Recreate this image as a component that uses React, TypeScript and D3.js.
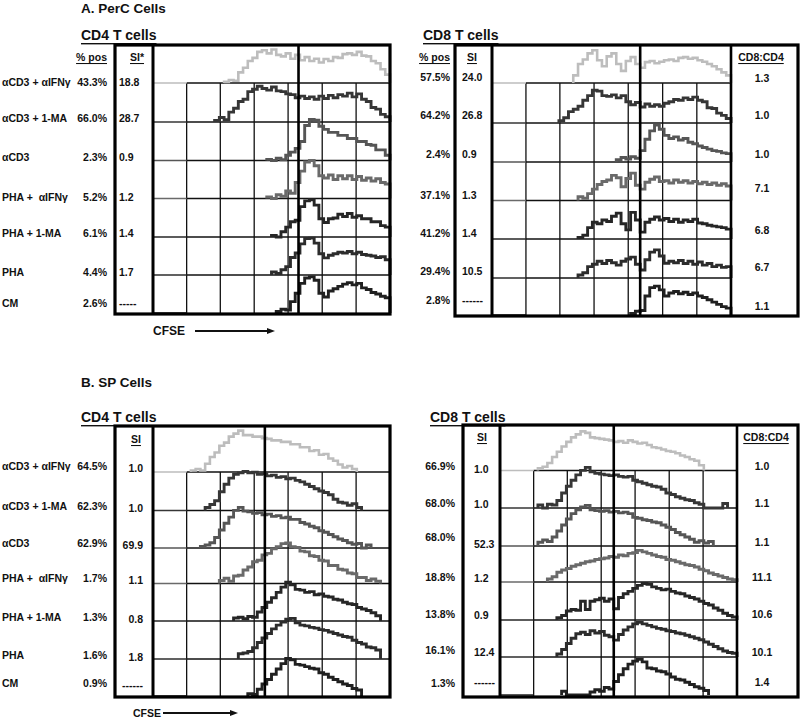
import React from "react";
import * as d3 from "d3";

// ---------- DATA ----------
const conditions = ["αCD3 + αIFNγ", "αCD3 + 1-MA", "αCD3", "PHA + \u00A0αIFNγ", "PHA + 1-MA", "PHA", "CM"];

const percCD4Pos = ["43.3%", "66.0%", "2.3%", "5.2%", "6.1%", "4.4%", "2.6%"];
const percCD4SI = ["18.8", "28.7", "0.9", "1.2", "1.4", "1.7", "-----"];
const percCD8Pos = ["57.5%", "64.2%", "2.4%", "37.1%", "41.2%", "29.4%", "2.8%"];
const percCD8SI = ["24.0", "26.8", "0.9", "1.3", "1.4", "10.5", "------"];
const percRatio = ["1.3", "1.0", "1.0", "7.1", "6.8", "6.7", "1.1"];

const spCD4Pos = ["64.5%", "62.3%", "62.9%", "1.7%", "1.3%", "1.6%", "0.9%"];
const spCD4SI = ["1.0", "1.0", "69.9", "1.1", "0.8", "1.8", "------"];
const spCD8Pos = ["66.9%", "68.0%", "68.0%", "18.8%", "13.8%", "16.1%", "1.3%"];
const spCD8SI = ["1.0", "1.0", "52.3", "1.2", "0.9", "12.4", "------"];
const spRatio = ["1.0", "1.1", "1.1", "11.1", "10.6", "10.1", "1.4"];

// CFSE histograms: first bin index (of 50 bins across the plot) and relative counts
const percCD4Start = [15, 13, 24, 24, 25, 25, 26];
const percCD4Counts = [
  [3, 8, 6, 28, 40, 58, 66, 82, 86, 78, 88, 74, 70, 78, 64, 74, 60, 68, 58, 64, 54, 63, 58, 68, 66, 76, 78, 74, 82, 72, 70, 58, 52, 36, 22],
  [4, 12, 6, 26, 36, 54, 60, 80, 86, 94, 88, 84, 92, 82, 80, 74, 72, 64, 68, 62, 66, 60, 68, 62, 70, 64, 72, 68, 76, 66, 74, 60, 54, 38, 34, 20, 14],
  [3, 0, 6, 2, 14, 22, 32, 50, 92, 108, 106, 90, 82, 74, 74, 66, 66, 58, 58, 50, 50, 42, 40, 28, 28, 14],
  [4, 0, 10, 6, 20, 14, 42, 72, 96, 100, 86, 60, 54, 62, 50, 60, 52, 60, 50, 58, 48, 54, 46, 52, 42, 38],
  [4, 0, 14, 26, 40, 44, 80, 95, 98, 84, 48, 38, 48, 50, 60, 54, 62, 52, 56, 48, 48, 40, 40, 30, 26],
  [8, 4, 14, 22, 46, 58, 82, 96, 97, 84, 56, 45, 52, 56, 60, 58, 62, 56, 60, 54, 52, 50, 46, 48, 40],
  [4, 10, 8, 30, 52, 78, 92, 95, 86, 52, 42, 58, 64, 70, 76, 80, 74, 78, 66, 62, 54, 50, 44, 40],
];

const percCD8Start = [17, 14, 26, 18, 18, 18, 29];
const percCD8Counts = [
  [20, 50, 62, 78, 86, 60, 44, 70, 78, 50, 32, 58, 68, 50, 40, 55, 58, 52, 56, 60, 62, 58, 66, 68, 64, 66, 60, 56, 50, 44, 36, 28, 20],
  [6, 14, 30, 36, 44, 60, 72, 86, 84, 72, 70, 74, 66, 72, 56, 48, 54, 42, 50, 44, 48, 44, 52, 56, 62, 60, 66, 62, 68, 60, 56, 40, 38, 26, 20, 12],
  [6, 12, 8, 14, 10, 30, 60, 82, 97, 86, 70, 62, 66, 58, 62, 52, 48, 42, 38, 34, 30, 28, 24, 22],
  [10, 6, 18, 30, 42, 50, 54, 66, 60, 36, 58, 72, 40, 30, 48, 56, 62, 50, 52, 46, 54, 48, 52, 46, 50, 44, 48, 42, 46, 40, 44, 38],
  [4, 10, 30, 44, 40, 50, 46, 60, 68, 40, 24, 70, 50, 18, 44, 52, 58, 50, 54, 46, 52, 44, 50, 46, 52, 42, 40, 36, 34, 32, 30, 26],
  [8, 14, 30, 36, 44, 38, 46, 40, 34, 44, 50, 55, 36, 21, 48, 68, 74, 58, 39, 44, 40, 46, 38, 44, 36, 42, 34, 38, 30, 34, 28, 30],
  [4, 10, 12, 50, 72, 76, 66, 50, 58, 62, 56, 60, 54, 58, 50, 46, 40, 34, 28, 22, 18],
];

const spCD4Start = [8, 11, 10, 14, 17, 18, 20];
const spCD4Counts = [
  [4, 8, 4, 22, 40, 52, 70, 78, 94, 102, 110, 98, 98, 94, 94, 90, 88, 84, 84, 80, 80, 74, 74, 66, 66, 56, 58, 46, 48, 36, 30, 20, 12, 16, 8],
  [8, 16, 26, 50, 70, 86, 96, 100, 104, 100, 102, 96, 98, 92, 94, 88, 90, 84, 86, 80, 76, 70, 64, 58, 52, 48, 42, 30, 22, 20, 14, 18, 8],
  [4, 8, 14, 28, 48, 66, 82, 100, 108, 98, 96, 92, 94, 88, 90, 84, 86, 80, 82, 76, 76, 68, 64, 58, 54, 46, 42, 36, 30, 24, 20, 14, 10, 12, 0, 8],
  [8, 14, 6, 20, 22, 36, 44, 58, 62, 76, 80, 92, 98, 106, 108, 98, 96, 86, 84, 74, 72, 62, 60, 48, 48, 38, 36, 28, 26, 16, 16, 8, 12, 6],
  [8, 10, 6, 12, 10, 24, 36, 50, 62, 76, 90, 103, 96, 84, 82, 76, 78, 70, 72, 66, 64, 58, 56, 50, 46, 44, 36, 32, 28, 22, 14],
  [14, 16, 20, 30, 44, 56, 68, 80, 90, 98, 106, 108, 96, 90, 88, 84, 82, 78, 76, 72, 68, 64, 60, 58, 50, 44, 40, 32, 30, 24],
  [6, 4, 18, 32, 44, 58, 72, 86, 100, 96, 84, 82, 78, 74, 72, 62, 58, 50, 44, 38, 32, 28, 20, 16],
];

const spCD8Start = [8, 8, 8, 10, 12, 12, 13];
const spCD8Counts = [
  [6, 10, 20, 36, 50, 64, 76, 88, 96, 104, 100, 88, 86, 84, 82, 80, 76, 78, 74, 80, 76, 72, 74, 68, 62, 60, 56, 52, 50, 46, 40, 36, 30, 26, 14],
  [8, 0, 10, 8, 20, 40, 58, 74, 88, 100, 108, 96, 92, 90, 88, 86, 88, 84, 82, 84, 74, 70, 66, 62, 58, 56, 50, 40, 36, 30, 26, 22, 20, 14, 10, 0, 0, 0, 0, 12],
  [10, 16, 12, 24, 40, 56, 72, 86, 96, 104, 108, 96, 94, 92, 94, 90, 92, 88, 90, 86, 76, 74, 70, 68, 64, 62, 56, 50, 44, 36, 30, 24, 18, 10, 14, 8, 12],
  [8, 14, 26, 32, 36, 42, 46, 50, 54, 56, 60, 62, 64, 68, 66, 72, 70, 76, 78, 84, 80, 76, 72, 68, 66, 60, 58, 54, 50, 46, 44, 40, 34, 30, 24, 20, 16, 12, 8, 6],
  [6, 12, 24, 28, 26, 50, 28, 50, 54, 58, 50, 56, 30, 60, 70, 76, 84, 92, 97, 95, 88, 84, 80, 82, 76, 72, 70, 64, 60, 56, 50, 44, 40, 32, 26, 18, 12, 8],
  [8, 20, 36, 50, 62, 66, 60, 70, 64, 68, 58, 54, 45, 60, 72, 80, 88, 92, 88, 84, 80, 76, 74, 70, 68, 64, 62, 58, 54, 50, 46, 40, 34, 28, 22, 16, 12, 10],
  [10, 0, 0, 0, 0, 0, 8, 14, 10, 20, 16, 36, 54, 70, 82, 90, 95, 88, 72, 70, 64, 62, 56, 48, 42, 40, 34, 28, 22, 18, 12],
];

// ---------- DRAWING ----------
const FONT = "'Liberation Sans', Arial, Helvetica, sans-serif";
const ROW_COLORS = ["#bdbdbd", "#363636", "#565656", "#6a6a6a", "#262626", "#2c2c2c", "#202020"];
const NBINS = 50;
const GRID_BINS = [7.1, 14.2, 21.35, 28.5, 35.7, 42.85];

type PanelGeom = {
  boxL: number; siR: number; plotR: number; boxR: number; top: number; bottom: number;
  baselines: number[]; unit: number; thickBin: number;
  starts: number[]; counts: number[][];
};

function HistPanel({ g }: { g: PanelGeom }) {
  const x = d3.scaleLinear().domain([0, NBINS]).range([g.siR, g.plotR]);
  const gx0 = x(GRID_BINS[0]);
  const line = d3
    .line<[number, number]>()
    .x((d) => d[0])
    .y((d) => d[1])
    .curve(d3.curveStepAfter);
  return (
    <g>
      {g.baselines.slice(0, 6).map((b, i) => (
        <line key={"h" + i} x1={gx0} x2={g.plotR} y1={b} y2={b} stroke="#111" strokeWidth={1.3} />
      ))}
      {GRID_BINS.map((gb, i) => (
        <line key={"v" + i} x1={x(gb)} x2={x(gb)} y1={g.baselines[0]} y2={g.bottom} stroke="#111" strokeWidth={1.3} />
      ))}
      {g.counts.map((c, r) => {
        const y = d3.scaleLinear().domain([0, 100]).range([g.baselines[r], g.baselines[r] - g.unit]);
        const s = g.starts[r];
        const pts: [number, number][] = [[x(s), y(0)]];
        c.forEach((v, i) => pts.push([x(s + i), y(v)]));
        pts.push([x(s + c.length), y(0)]);
        return (
          <g key={"r" + r}>
            <line x1={g.siR} x2={gx0} y1={g.baselines[r]} y2={g.baselines[r]} stroke={ROW_COLORS[r]} strokeWidth={1.3} />
            <path d={line(pts) || ""} fill="none" stroke={ROW_COLORS[r]} strokeWidth={r === 0 ? 2.6 : 2.9} strokeLinejoin="miter" />
          </g>
        );
      })}
      <line x1={x(g.thickBin)} x2={x(g.thickBin)} y1={g.top} y2={g.bottom} stroke="#000" strokeWidth={2.6} />
      <rect x={g.boxL} y={g.top} width={g.boxR - g.boxL} height={g.bottom - g.top} fill="none" stroke="#000" strokeWidth={3.2} />
      <line x1={g.siR} x2={g.siR} y1={g.top} y2={g.bottom} stroke="#000" strokeWidth={3} />
      {g.plotR < g.boxR - 5 && (
        <line x1={g.plotR} x2={g.plotR} y1={g.top} y2={g.bottom} stroke="#000" strokeWidth={2.6} />
      )}
    </g>
  );
}

function T({ x, y, children, anchor = "start", size = 10.5, underline = false }: any) {
  return (
    <text
      x={x}
      y={y}
      textAnchor={anchor}
      fontFamily={FONT}
      fontWeight="bold"
      fontSize={size}
      fill="#111"
      textDecoration={underline ? "underline" : undefined}
      dominantBaseline="central"
    >
      {children}
    </text>
  );
}

function Arrow({ x1, x2, y }: { x1: number; x2: number; y: number }) {
  return (
    <g>
      <line x1={x1} x2={x2 - 6} y1={y} y2={y} stroke="#111" strokeWidth={1.8} />
      <path d={`M${x2},${y} L${x2 - 8},${y - 3} L${x2 - 8},${y + 3} Z`} fill="#111" />
    </g>
  );
}

export default function App() {
  const A4: PanelGeom = {
    boxL: 115, siR: 153, plotR: 390, boxR: 390, top: 45, bottom: 314,
    baselines: [83, 122, 160.5, 198.5, 237, 275, 313], unit: 38, thickBin: 30.7,
    starts: percCD4Start, counts: percCD4Counts,
  };
  const A8: PanelGeom = {
    boxL: 455, siR: 492, plotR: 731, boxR: 798, top: 45, bottom: 316,
    baselines: [83, 123, 162, 200.5, 239, 278, 315], unit: 38, thickBin: 31,
    starts: percCD8Start, counts: percCD8Counts,
  };
  const B4: PanelGeom = {
    boxL: 115, siR: 153, plotR: 390, boxR: 390, top: 426, bottom: 697,
    baselines: [472, 510.5, 548, 583.5, 621, 659, 696], unit: 37.6, thickBin: 23.6,
    starts: spCD4Start, counts: spCD4Counts,
  };
  const B8: PanelGeom = {
    boxL: 463, siR: 500, plotR: 737, boxR: 798, top: 425, bottom: 697,
    baselines: [470.5, 508, 546, 582, 620, 657, 695], unit: 37.6, thickBin: 24,
    starts: spCD8Start, counts: spCD8Counts,
  };

  const aLabelY = [82, 118, 157, 197, 233, 272, 303];
  const a8PctY = [77, 115, 154, 195, 233, 271, 300];
  const a8RatioY = [78, 115, 154, 188, 230, 267, 306];
  const bLabelY = [466, 506, 543, 578, 617, 655, 683];
  const b8PctY = [466, 503, 537, 577, 614, 650, 683];
  const b8SIY = [469, 504, 544, 578, 615, 652, 682];
  const b8RatioY = [466, 503, 542, 577, 614, 652, 682];

  return (
    <svg width={800} height={723} style={{ display: "block", position: "absolute", left: 0, top: 0, background: "#fff" }}>
      <rect x={0} y={0} width={800} height={723} fill="#fff" />
      <T x={81} y={8} size={13.5}>A. PerC Cells</T>
      <T x={81} y={35} size={14} underline>CD4 T cells</T>
      <T x={107} y={57} anchor="end" underline>% pos</T>
      <T x={130} y={57} underline>SI*</T>
      {conditions.map((c, i) => (
        <g key={"al" + i}>
          <T x={2} y={aLabelY[i]}>{c}</T>
          <T x={107} y={aLabelY[i]} anchor="end">{percCD4Pos[i]}</T>
          <T x={119} y={aLabelY[i]}>{percCD4SI[i]}</T>
        </g>
      ))}
      <HistPanel g={A4} />
      <T x={153} y={331} size={12}>CFSE</T>
      <Arrow x1={195} x2={275} y={331} />

      <T x={423} y={35} size={14} underline>CD8 T cells</T>
      <T x={450} y={57} anchor="end" underline>% pos</T>
      <T x={467} y={57} underline>SI</T>
      <T x={761} y={57} anchor="middle" underline>CD8:CD4</T>
      {conditions.map((c, i) => (
        <g key={"ar" + i}>
          <T x={450} y={a8PctY[i]} anchor="end">{percCD8Pos[i]}</T>
          <T x={462} y={a8PctY[i]}>{percCD8SI[i]}</T>
          <T x={762} y={a8RatioY[i]} anchor="middle">{percRatio[i]}</T>
        </g>
      ))}
      <HistPanel g={A8} />

      <T x={81} y={382} size={13.5}>B. SP Cells</T>
      <T x={81} y={417} size={14} underline>CD4 T cells</T>
      <T x={136} y={439} anchor="middle" underline>SI</T>
      {conditions.map((c, i) => (
        <g key={"bl" + i}>
          <T x={2} y={bLabelY[i]}>{c}</T>
          <T x={107} y={bLabelY[i]} anchor="end">{spCD4Pos[i]}</T>
          <T x={143} y={bLabelY[i] + 2} anchor="end">{spCD4SI[i]}</T>
        </g>
      ))}
      <HistPanel g={B4} />
      <T x={133} y={713} size={10.5}>CFSE</T>
      <Arrow x1={163} x2={238} y={713} />

      <T x={430} y={417} size={14} underline>CD8 T cells</T>
      <T x={482} y={437} anchor="middle" underline>SI</T>
      <T x={766} y={437} anchor="middle" underline>CD8:CD4</T>
      {conditions.map((c, i) => (
        <g key={"br" + i}>
          <T x={455} y={b8PctY[i]} anchor="end">{spCD8Pos[i]}</T>
          <T x={474} y={b8SIY[i]}>{spCD8SI[i]}</T>
          <T x={762} y={b8RatioY[i]} anchor="middle">{spRatio[i]}</T>
        </g>
      ))}
      <HistPanel g={B8} />
    </svg>
  );
}
